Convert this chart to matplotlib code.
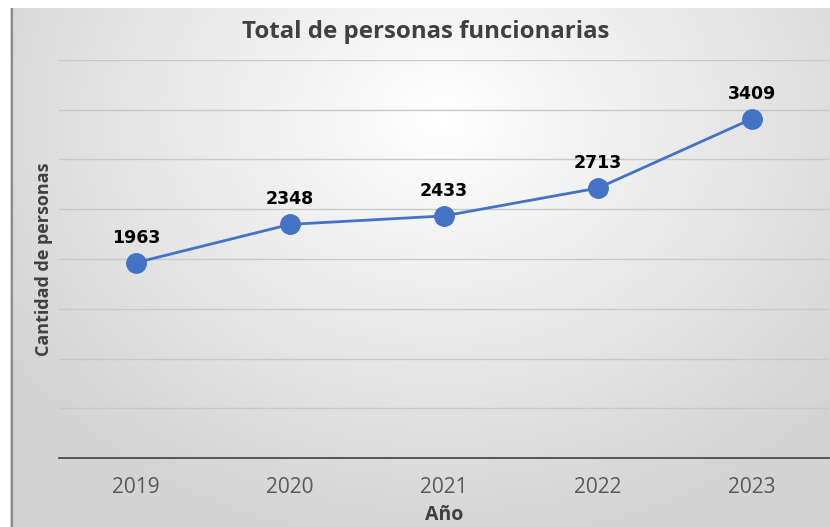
import numpy as np
import matplotlib
matplotlib.use("Agg")
from matplotlib import pyplot as plt

years = ["2019", "2020", "2021", "2022", "2023"]
personas = [1963, 2348, 2433, 2713, 3409]

W, H = 830, 527
fig = plt.figure(figsize=(W / 100, H / 100), dpi=100)
fig.patch.set_facecolor("white")

# background with radial gradient like the office chart
bx0, by1 = 10, 8
bg = fig.add_axes([bx0 / W, 0, (W - bx0) / W, (H - by1) / H])
yy, xx = np.mgrid[0:H - by1, 0:W - bx0]
cx, cy = 430, 110
r = np.sqrt(((xx - cx) / 520.0) ** 2 + ((yy - cy) / 430.0) ** 2)
shade = 1.0 - 0.17 * np.clip(r, 0, 1)
img = np.dstack([shade, shade, shade])
bg.imshow(img, aspect="auto", extent=[0, 1, 0, 1], origin="upper")
bg.set_xlim(0, 1)
bg.set_ylim(0, 1)
bg.axis("off")
bg.axvline(0.002, color="#8c8c8c", lw=1.5)

ax = fig.add_axes([59 / W, (H - 458) / H, (829 - 59) / W, (458 - 60) / H])
ax.patch.set_alpha(0)
x = np.arange(len(years))
ax.plot(x, personas, color="#4472C4", lw=2.0, marker="o", markersize=14,
        markerfacecolor="#4472C4", markeredgecolor="#4472C4", zorder=3)
for xi, v in zip(x, personas):
    ax.annotate(str(v), (xi, v), xytext=(0, 14.5), textcoords="offset points",
                ha="center", va="baseline", fontsize=12.5, fontweight="bold",
                family="DejaVu Sans", color="black")

ax.set_xlim(-0.5, len(years) - 0.5)
ax.set_ylim(0, 4000)
ax.set_yticks(range(0, 4001, 500))
ax.yaxis.grid(True, color="#c8c8c8", lw=1)
ax.set_axisbelow(True)
ax.tick_params(left=False, labelleft=False, bottom=False)
ax.set_xticks(x)
ax.set_xticklabels(years, fontsize=15, color="#595959", family="Open Sans")
ax.tick_params(axis="x", pad=10)
for s in ["top", "right", "left"]:
    ax.spines[s].set_visible(False)
ax.spines["bottom"].set_color("#404040")
ax.spines["bottom"].set_linewidth(1.2)

ax.set_xlabel("Año", fontsize=14, fontweight="bold", color="#404040",
              family="Open Sans", labelpad=5)
ax.set_ylabel("Cantidad de personas", fontsize=13, fontweight="bold",
              color="#404040", family="Open Sans", labelpad=4)
fig.text(426 / W, 1 - 32 / H, "Total de personas funcionarias", ha="center",
         va="center", fontsize=17.3, fontweight="bold", color="#404040",
         family="Open Sans")

fig.savefig("out.png", dpi=100)
